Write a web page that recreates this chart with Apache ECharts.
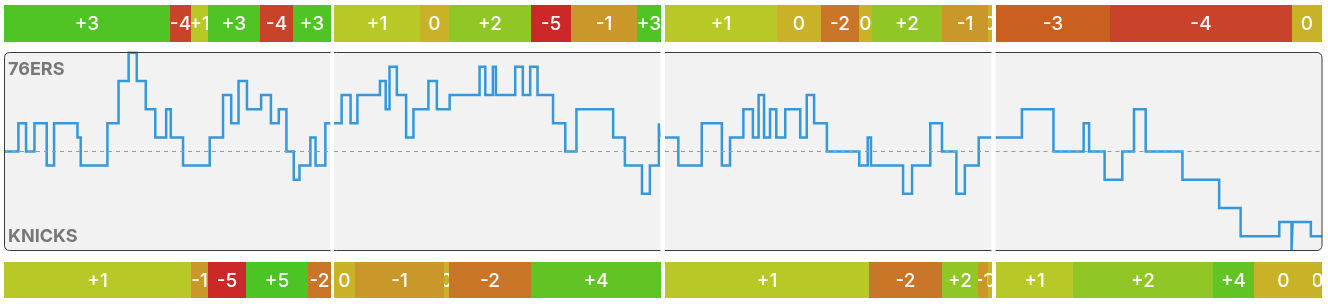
<!DOCTYPE html>
<html>
<head>
<meta charset="utf-8">
<script src="https://cdn.jsdelivr.net/npm/echarts@6/dist/echarts.min.js"></script>
<style>
  html, body { margin: 0; padding: 0; background: #fff; }
  #chart { width: 1328px; height: 304px; }
</style>
</head>
<body>
<div id="chart"></div>
<script>
// score margin (76ers minus knicks), value starts at the given game minute
var flowTimes = [0, 0.53, 0.81, 1.12, 1.57, 1.84, 2.70, 2.82, 3.80, 4.21, 4.58, 4.88, 5.21, 5.56, 5.96, 6.13, 6.58, 7.56, 8.05, 8.35, 8.62, 8.93, 9.45, 9.81, 10.10, 10.38, 10.65, 10.86, 11.26, 11.45, 11.81,
  12.28, 12.61, 12.86, 13.69, 13.90, 14.04, 14.31, 14.65, 14.92, 15.47, 15.78, 16.25, 17.35, 17.56, 17.84, 17.95, 18.66, 18.94, 19.21, 19.48, 20.05, 20.50, 20.91, 22.26, 22.69, 23.32, 23.61, 23.94, 23.98,
  24.49, 25.35, 26.09, 26.39, 26.88, 27.23, 27.44, 27.64, 27.86, 28.09, 28.42, 28.97, 29.21, 29.48, 29.95, 31.14, 31.45, 31.57, 32.75, 33.08, 33.75, 34.18, 34.71, 35.02, 35.53,
  36.97, 38.13, 39.24, 39.44, 40.01, 40.66, 41.09, 41.52, 42.87, 44.22, 45.01, 46.43, 46.88, 46.92, 47.59];
var flowDiffs = [0, 2, 0, 2, -1, 2, 1, -1, 2, 5, 7, 5, 3, 1, 3, 1, -1, 1, 4, 2, 5, 3, 4, 2, 3, 0, -2, -1, 1, -1, 2,
  4, 2, 4, 5, 3, 6, 4, 1, 3, 5, 3, 4, 6, 4, 6, 4, 6, 4, 6, 4, 2, 0, 3, 1, -1, -3, -1, 2, 1,
  -1, 2, -1, 1, 3, 1, 4, 1, 3, 1, 3, 1, 4, 2, 0, -1, 1, -1, -3, -1, 2, 0, -3, -1, 1,
  3, 0, 2, 0, -2, 0, 3, 0, -2, -4, -6, -5, -7, -5, -6];

// stints shown in the top and bottom strips
var topStarts = [0, 6.10, 6.87, 7.49, 9.41, 10.61, 12, 15.16, 16.23, 19.24, 20.70, 23.15, 24, 28.10, 29.73, 31.13, 31.62, 34.19, 35.88, 36, 40.21, 46.89];
var topValues = [3, -4, 1, 3, -4, 3, 1, 0, 2, -5, -1, 3, 1, 0, -2, 0, 2, -1, 0, -3, -4, 0];
var bottomStarts = [0, 6.87, 7.51, 8.88, 11.18, 12, 12.77, 16.05, 16.23, 19.24, 24, 31.50, 34.19, 35.51, 35.88, 36, 38.84, 44.00, 45.50, 47.66];
var bottomValues = [1, -1, -5, 5, -2, 0, -1, 0, -2, 4, 1, -2, 2, -1, 0, 1, 2, 4, 0, 0];

var teamNames = ['76ERS', 'KNICKS'];
var quarterLength = 12;
var gameLength = 48;

var chart = echarts.init(document.getElementById('chart'), null, { renderer: 'canvas' });

// layout of the four quarter columns
var qLeft = [4, 334, 665, 995.5];
var qWidth = 326.5;
var plotTop = 52, plotHeight = 199;

var bandColors = {
  '-5': '#cd2828', '-4': '#c9422a', '-3': '#c9601f', '-2': '#ca7628', '-1': '#ca972a',
  '0': '#cab228', '1': '#b8c827', '2': '#90c626', '3': '#4fc424', '4': '#62c424', '5': '#4cc424'
};
function fmt(v) { return v > 0 ? '+' + v : String(v); }

function segments(starts, values, q) {
  var out = [];
  for (var i = 0; i < starts.length; i++) {
    var end = i + 1 < starts.length ? starts[i + 1] : gameLength;
    if (Math.floor(starts[i] / quarterLength + 1e-9) === q) out.push([starts[i], end, values[i]]);
  }
  return out;
}

function quarterFlow(q) {
  var a = q * quarterLength, b = a + quarterLength;
  var cur = 0, pts = [];
  for (var i = 0; i < flowTimes.length; i++) {
    if (flowTimes[i] <= a) cur = flowDiffs[i];
  }
  pts.push([a, cur]);
  for (var j = 0; j < flowTimes.length; j++) {
    if (flowTimes[j] > a && flowTimes[j] < b) { pts.push([flowTimes[j], flowDiffs[j]]); cur = flowDiffs[j]; }
  }
  pts.push([b, cur]);
  return pts;
}

function renderBand(params, api) {
  var s = api.value(0), e = api.value(1), v = api.value(2);
  var p0 = api.coord([s, 1]), p1 = api.coord([e, 0]);
  // snap to whole pixels so neighbouring stints meet without a seam
  var x0 = Math.round(p0[0]), x1 = Math.round(p1[0]);
  var box = { x: x0, y: p0[1], width: x1 - x0, height: p1[1] - p0[1] };
  return {
    type: 'group',
    clipPath: { type: 'rect', shape: box },
    children: [
      { type: 'rect', shape: box, style: { fill: bandColors[String(v)] } },
      {
        type: 'text',
        x: (x0 + x1) / 2,
        y: (p0[1] + p1[1]) / 2 + 1,
        style: {
          text: fmt(v), fill: '#fff', align: 'center', verticalAlign: 'middle',
          fontFamily: 'Inter', fontSize: 19, fontWeight: 500
        }
      }
    ]
  };
}

var grids = [], xAxes = [], yAxes = [], series = [];
for (var q = 0; q < 4; q++) {
  var rows = [
    { top: 5, height: 37, min: 0, max: 1 },
    { top: plotTop, height: plotHeight, min: -7.05, max: 7.05 },
    { top: 262, height: 36, min: 0, max: 1 }
  ];
  rows.forEach(function (r, k) {
    var g = {
      left: qLeft[q], width: qWidth, top: r.top, height: r.height,
      show: k === 1, backgroundColor: '#f2f2f2', borderWidth: 0
    };
    grids.push(g);
    var idx = grids.length - 1;
    xAxes.push({ gridIndex: idx, type: 'value', min: q * quarterLength, max: (q + 1) * quarterLength, show: false });
    yAxes.push({ gridIndex: idx, type: 'value', min: r.min, max: r.max, show: false });
    if (k === 1) {
      series.push({
        type: 'line', xAxisIndex: idx, yAxisIndex: idx, step: 'end',
        data: quarterFlow(q), symbol: 'none', clip: false, silent: true,
        lineStyle: { color: '#3498db', width: 2.5, join: 'miter' },
        markLine: {
          silent: true, symbol: 'none', label: { show: false },
          lineStyle: { color: '#9a9a9a', type: [4, 4], width: 1 },
          data: [{ yAxis: 0 }]
        },
        z: 3
      });
    } else {
      series.push({
        type: 'custom', xAxisIndex: idx, yAxisIndex: idx, silent: true,
        data: segments(k === 0 ? topStarts : bottomStarts, k === 0 ? topValues : bottomValues, q),
        renderItem: renderBand
      });
    }
  });
}

// frame round the plot, white gaps between quarters, team labels
var graphics = [{
  type: 'rect', z: 100, silent: true,
  shape: { x: 4.5, y: plotTop + 0.5, width: qLeft[3] + qWidth - 4.5, height: plotHeight - 1, r: 5 },
  style: { fill: null, stroke: '#3a3a3a', lineWidth: 1 }
}];
for (var s = 0; s < 3; s++) {
  var gx = qLeft[s] + qWidth;
  graphics.push({
    type: 'rect', z: 101, silent: true,
    shape: { x: gx, y: plotTop - 2, width: qLeft[s + 1] - gx, height: plotHeight + 4 },
    style: { fill: '#fff' }
  });
}
graphics.push({
  type: 'text', left: 8, top: 61, z: 102, silent: true,
  style: { text: teamNames[0], fill: '#777', fontFamily: 'Inter', fontSize: 18, fontWeight: 'bold' }
});
graphics.push({
  type: 'text', left: 8, top: 228, z: 102, silent: true,
  style: { text: teamNames[1], fill: '#777', fontFamily: 'Inter', fontSize: 18, fontWeight: 'bold' }
});

chart.setOption({
  animation: false,
  backgroundColor: '#fff',
  grid: grids,
  xAxis: xAxes,
  yAxis: yAxes,
  series: series,
  graphic: graphics
});
</script>
</body>
</html>
